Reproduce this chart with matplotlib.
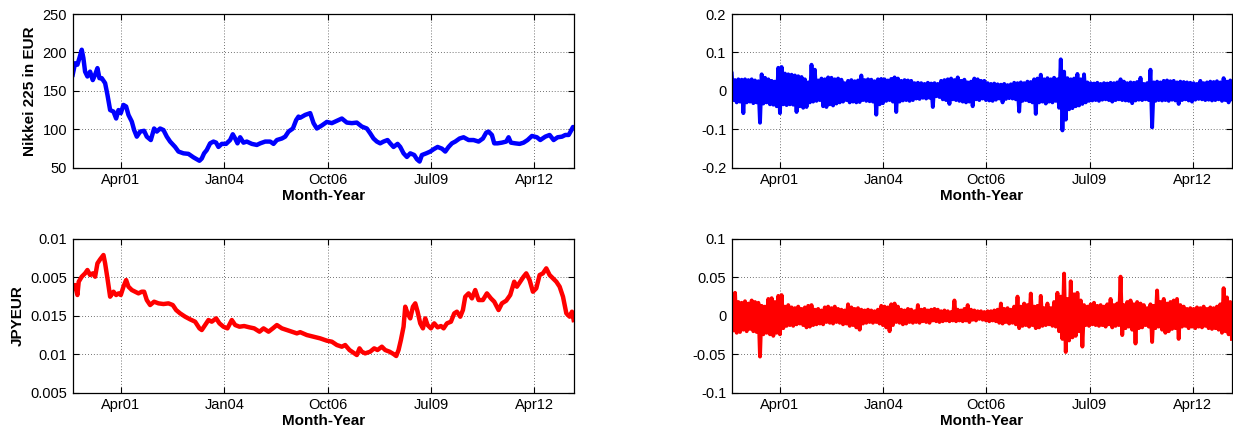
import numpy as np
import matplotlib
matplotlib.use("Agg")
import matplotlib.pyplot as plt
import matplotlib.dates as mdates
from datetime import datetime

plt.rcParams['font.family'] = ['Liberation Sans', 'DejaVu Sans']
plt.rcParams['axes.unicode_minus'] = False

# ---------------- data ----------------
nikkei_t = [1999.963, 2000.026, 2000.088, 2000.141, 2000.203, 2000.247, 2000.292, 2000.354, 2000.425, 2000.496,
            2000.558, 2000.620, 2000.673, 2000.735, 2000.824, 2000.886, 2000.957, 2001.046, 2001.117, 2001.179,
            2001.241, 2001.312, 2001.383, 2001.445, 2001.534, 2001.596, 2001.667, 2001.756, 2001.862, 2001.933,
            2002.040, 2002.128, 2002.199, 2002.288, 2002.377, 2002.466, 2002.554, 2002.687, 2002.776, 2002.909,
            2003.042, 2003.175, 2003.264, 2003.335, 2003.397, 2003.459, 2003.530, 2003.619, 2003.708, 2003.779,
            2003.841, 2003.930, 2004.045, 2004.151, 2004.222, 2004.285, 2004.347, 2004.418, 2004.506, 2004.595,
            2004.728, 2004.861, 2004.950, 2005.083, 2005.216, 2005.305, 2005.394, 2005.527, 2005.615, 2005.704,
            2005.820, 2005.908, 2005.970, 2006.015, 2006.148, 2006.281, 2006.370, 2006.458, 2006.592, 2006.725,
            2006.858, 2006.991, 2007.124, 2007.257, 2007.390, 2007.523, 2007.656, 2007.789, 2007.878, 2007.967,
            2008.056, 2008.144, 2008.233, 2008.340, 2008.411, 2008.499, 2008.606, 2008.677, 2008.765, 2008.854,
            2008.943, 2009.049, 2009.120, 2009.191, 2009.253, 2009.369, 2009.475, 2009.564, 2009.671, 2009.786,
            2009.875, 2009.963, 2010.052, 2010.141, 2010.256, 2010.363, 2010.496, 2010.629, 2010.762, 2010.877,
            2010.966, 2011.028, 2011.117, 2011.179, 2011.268, 2011.383, 2011.498, 2011.561, 2011.623, 2011.738,
            2011.854, 2011.960, 2012.066, 2012.182, 2012.315, 2012.403, 2012.537, 2012.652, 2012.758, 2012.865,
            2012.980, 2013.069, 2013.158, 2013.220, 2013.273, 2013.300]
nikkei_v = [171, 186, 184, 192.6, 203.5, 192.6, 175, 168.7, 175, 164,
            171, 179.6, 166.5, 166.5, 160, 144.8, 125, 123, 114, 125,
            121, 131.7, 129.6, 118.7, 110, 99, 90.4, 97, 98, 90.4,
            86, 101, 97, 101, 99, 90.4, 84, 77, 71, 68.7,
            68, 63.5, 61, 59, 62, 68.7, 73, 81.7, 84, 82.6,
            77, 81, 81, 86, 93.5, 88, 81.7, 89.6, 82.6, 84,
            81, 79.6, 81.7, 84, 84, 81, 86, 88, 90.4, 97,
            101, 112, 116.5, 115, 118.7, 121, 108, 101, 105, 109.6,
            108, 111, 114, 108.7, 108, 108.7, 103.5, 101, 94.8, 88,
            84, 81.7, 84, 86, 81.7, 77, 81, 77, 68.7, 64,
            68.7, 66.5, 61, 58, 66.5, 68.7, 71, 74, 77, 74.8,
            71, 77, 81.7, 84, 88, 89.6, 86, 86, 84, 88,
            95.7, 97, 92.6, 81.7, 81.7, 82.6, 84, 89.6, 82.6, 81.7,
            81, 82.6, 86, 91.3, 89.6, 86, 90.4, 92.6, 86, 89.6,
            90.4, 92.6, 92.6, 98, 103, 102]

jpy_t = [1999.963, 2000.026, 2000.088, 2000.123, 2000.203, 2000.292, 2000.354, 2000.425, 2000.496, 2000.558,
         2000.620, 2000.691, 2000.780, 2000.824, 2000.886, 2000.957, 2001.046, 2001.117, 2001.179, 2001.241,
         2001.312, 2001.383, 2001.445, 2001.534, 2001.623, 2001.711, 2001.800, 2001.862, 2001.933, 2002.022,
         2002.128, 2002.244, 2002.377, 2002.510, 2002.625, 2002.714, 2002.820, 2002.954, 2003.087, 2003.220,
         2003.335, 2003.397, 2003.486, 2003.575, 2003.663, 2003.779, 2003.868, 2003.974, 2004.080, 2004.196,
         2004.285, 2004.400, 2004.524, 2004.666, 2004.790, 2004.932, 2005.039, 2005.172, 2005.287, 2005.394,
         2005.527, 2005.660, 2005.793, 2005.926, 2006.015, 2006.192, 2006.370, 2006.547, 2006.725, 2006.858,
         2006.991, 2007.124, 2007.213, 2007.328, 2007.434, 2007.523, 2007.594, 2007.656, 2007.745, 2007.878,
         2007.985, 2008.073, 2008.189, 2008.277, 2008.393, 2008.499, 2008.570, 2008.632, 2008.694, 2008.765,
         2008.810, 2008.872, 2008.943, 2009.014, 2009.076, 2009.138, 2009.209, 2009.280, 2009.342, 2009.404,
         2009.493, 2009.582, 2009.671, 2009.760, 2009.831, 2009.919, 2010.026, 2010.114, 2010.185, 2010.274,
         2010.345, 2010.407, 2010.496, 2010.585, 2010.673, 2010.762, 2010.877, 2010.984, 2011.090, 2011.179,
         2011.294, 2011.383, 2011.498, 2011.605, 2011.711, 2011.782, 2011.871, 2011.960, 2012.031, 2012.120,
         2012.208, 2012.297, 2012.386, 2012.474, 2012.563, 2012.652, 2012.741, 2012.830, 2012.918, 2013.007,
         2013.096, 2013.184, 2013.246, 2013.291]
jpy_v = [0.009431, 0.009604, 0.009084, 0.009778, 0.010038, 0.010211, 0.010385, 0.010125, 0.010211, 0.010038,
         0.010732, 0.010940, 0.011166, 0.010732, 0.009951, 0.008997, 0.009257, 0.009084, 0.009170, 0.009084,
         0.009517, 0.009864, 0.009517, 0.009344, 0.009257, 0.009170, 0.009257, 0.009257, 0.008823, 0.008563,
         0.008737, 0.008650, 0.008615, 0.008650, 0.008563, 0.008303, 0.008129, 0.007956, 0.007817, 0.007696,
         0.007349, 0.007262, 0.007522, 0.007782, 0.007696, 0.007869, 0.007609, 0.007435, 0.007349, 0.007782,
         0.007522, 0.007435, 0.007470, 0.007401, 0.007349, 0.007175, 0.007349, 0.007175, 0.007349, 0.007522,
         0.007349, 0.007262, 0.007175, 0.007088, 0.007150, 0.007001, 0.006915, 0.006828, 0.006707, 0.006655,
         0.006481, 0.006394, 0.006481, 0.006221, 0.006082, 0.005961, 0.006308, 0.006134, 0.006047, 0.006134,
         0.006308, 0.006221, 0.006394, 0.006221, 0.006134, 0.006013, 0.005909, 0.006221, 0.006741, 0.007435,
         0.008476, 0.008129, 0.007869, 0.008476, 0.008650, 0.008216, 0.007609, 0.007349, 0.007869, 0.007522,
         0.007349, 0.007609, 0.007401, 0.007470, 0.007349, 0.007609, 0.007696, 0.008129, 0.008216, 0.007956,
         0.008303, 0.008997, 0.009170, 0.008910, 0.009344, 0.008823, 0.008823, 0.009170, 0.008910, 0.008737,
         0.008303, 0.008650, 0.008789, 0.009084, 0.009778, 0.009517, 0.009778, 0.010038, 0.010211, 0.009864,
         0.009257, 0.009431, 0.010125, 0.010211, 0.010472, 0.010125, 0.009951, 0.009778, 0.009517, 0.008997,
         0.008129, 0.007956, 0.008216, 0.007782]

# returns: alternating upper / lower extremes read along the band
ret_start, ret_end = 1999.963, 2013.29
nikkei_ret_hi = [0.045, 0.028, 0.030, 0.029, 0.030, 0.028, 0.030, 0.027, 0.025, 0.043,
                 0.034, 0.030, 0.026, 0.024, 0.060, 0.062, 0.045, 0.043, 0.042, 0.040,
                 0.038, 0.036, 0.030, 0.022, 0.068, 0.055, 0.027, 0.032, 0.030, 0.035,
                 0.034, 0.030, 0.032, 0.029, 0.020, 0.026, 0.028, 0.025, 0.027, 0.040,
                 0.028, 0.030, 0.029, 0.025, 0.030, 0.031, 0.030, 0.027, 0.031, 0.035,
                 0.032, 0.026, 0.028, 0.027, 0.026, 0.020, 0.021, 0.020, 0.018, 0.021,
                 0.019, 0.020, 0.018, 0.026, 0.028, 0.030, 0.032, 0.028, 0.035, 0.026,
                 0.029, 0.022, 0.024, 0.032, 0.030, 0.026,
                 0.026, 0.020, 0.018, 0.019, 0.017, 0.016, 0.018, 0.015, 0.017, 0.021,
                 0.020, 0.022, 0.020, 0.024, 0.023, 0.030, 0.032, 0.042, 0.030, 0.033,
                 0.030, 0.034, 0.030, 0.082, 0.050, 0.033, 0.030, 0.032, 0.044, 0.030,
                 0.043, 0.022, 0.020, 0.019, 0.021, 0.018, 0.020, 0.019, 0.021, 0.020,
                 0.022, 0.030, 0.024, 0.020, 0.022, 0.021, 0.023, 0.034, 0.018, 0.020,
                 0.055, 0.022, 0.024, 0.022, 0.026, 0.027, 0.025, 0.026, 0.022, 0.024,
                 0.023, 0.022, 0.021, 0.020, 0.018, 0.026, 0.020, 0.022, 0.024, 0.023,
                 0.025, 0.022, 0.033, 0.024, 0.027]
nikkei_ret_lo = [-0.024, -0.030, -0.028, -0.058, -0.030, -0.028, -0.032, -0.030, -0.083, -0.033,
                 -0.030, -0.035, -0.036, -0.040, -0.058, -0.035, -0.037, -0.035, -0.036, -0.055,
                 -0.040, -0.044, -0.042, -0.030, -0.028, -0.026, -0.024, -0.040, -0.042, -0.035,
                 -0.038, -0.033, -0.030, -0.028, -0.024, -0.030, -0.028, -0.030, -0.029, -0.024,
                 -0.026, -0.027, -0.028, -0.062, -0.035, -0.032, -0.026, -0.024, -0.028, -0.055,
                 -0.028, -0.025, -0.024, -0.026, -0.024, -0.020, -0.021, -0.018, -0.020, -0.018,
                 -0.042, -0.014, -0.016, -0.022, -0.024, -0.034, -0.022, -0.024, -0.026, -0.028,
                 -0.030, -0.028, -0.040, -0.022, -0.024, -0.020,
                 -0.024, -0.025, -0.026, -0.023, -0.020, -0.030, -0.021, -0.019, -0.020, -0.022,
                 -0.054, -0.026, -0.024, -0.027, -0.030, -0.060, -0.030, -0.028, -0.033, -0.028,
                 -0.030, -0.026, -0.044, -0.103, -0.075, -0.048, -0.045, -0.040, -0.038, -0.034,
                 -0.030, -0.026, -0.025, -0.024, -0.026, -0.023, -0.022, -0.024, -0.028, -0.024,
                 -0.022, -0.024, -0.025, -0.026, -0.032, -0.025, -0.023, -0.024, -0.022, -0.024,
                 -0.095, -0.026, -0.024, -0.025, -0.024, -0.026, -0.023, -0.025, -0.034, -0.024,
                 -0.022, -0.025, -0.028, -0.023, -0.021, -0.022, -0.024, -0.023, -0.025, -0.024,
                 -0.022, -0.026, -0.024, -0.030, -0.022]
jpy_ret_hi = [0.019, 0.030, 0.018, 0.017, 0.019, 0.016, 0.020, 0.018, 0.017, 0.013,
              0.012, 0.022, 0.023, 0.018, 0.026, 0.027, 0.012, 0.014, 0.011, 0.010,
              0.012, 0.009, 0.011, 0.013, 0.014, 0.008, 0.009, 0.007, 0.011, 0.012,
              0.010, 0.012, 0.009, 0.008, 0.007, 0.015, 0.011, 0.009, 0.010, 0.008,
              0.007, 0.008, 0.007, 0.006, 0.008, 0.013, 0.012, 0.011, 0.015, 0.016,
              0.012, 0.008, 0.007, 0.009, 0.008, 0.006, 0.014, 0.008, 0.009, 0.007,
              0.008, 0.009, 0.008, 0.006, 0.007, 0.006, 0.005, 0.020, 0.008, 0.007,
              0.009, 0.014, 0.008, 0.007, 0.006, 0.006,
              0.005, 0.006, 0.006, 0.007, 0.008, 0.016, 0.009, 0.010, 0.008, 0.012,
              0.025, 0.012, 0.016, 0.014, 0.029, 0.012, 0.013, 0.026, 0.010, 0.016,
              0.010, 0.018, 0.030, 0.025, 0.055, 0.022, 0.045, 0.028, 0.030, 0.020,
              0.014, 0.012, 0.015, 0.017, 0.013, 0.014, 0.012, 0.015, 0.022, 0.014,
              0.016, 0.051, 0.014, 0.018, 0.020, 0.015, 0.018, 0.016, 0.014, 0.010,
              0.015, 0.013, 0.033, 0.018, 0.022, 0.016, 0.018, 0.020, 0.022, 0.014,
              0.012, 0.009, 0.010, 0.009, 0.011, 0.010, 0.012, 0.009, 0.011, 0.010,
              0.012, 0.015, 0.036, 0.024, 0.018]
jpy_ret_lo = [-0.019, -0.022, -0.021, -0.018, -0.020, -0.017, -0.020, -0.021, -0.053, -0.024,
              -0.022, -0.024, -0.026, -0.022, -0.024, -0.016, -0.013, -0.012, -0.013, -0.011,
              -0.010, -0.012, -0.015, -0.014, -0.012, -0.011, -0.010, -0.011, -0.008, -0.009,
              -0.010, -0.008, -0.009, -0.011, -0.010, -0.013, -0.012, -0.015, -0.018, -0.010,
              -0.009, -0.008, -0.009, -0.008, -0.010, -0.012, -0.015, -0.020, -0.012, -0.008,
              -0.009, -0.011, -0.010, -0.008, -0.009, -0.008, -0.009, -0.007, -0.008, -0.009,
              -0.006, -0.007, -0.008, -0.007, -0.006, -0.007, -0.006, -0.007, -0.006, -0.007,
              -0.006, -0.008, -0.005, -0.006, -0.004, -0.005,
              -0.006, -0.007, -0.006, -0.007, -0.009, -0.010, -0.008, -0.010, -0.009, -0.011,
              -0.016, -0.013, -0.012, -0.014, -0.012, -0.016, -0.015, -0.013, -0.012, -0.011,
              -0.013, -0.014, -0.020, -0.030, -0.047, -0.032, -0.028, -0.026, -0.020, -0.040,
              -0.012, -0.013, -0.011, -0.012, -0.013, -0.012, -0.014, -0.011, -0.015, -0.013,
              -0.012, -0.025, -0.016, -0.014, -0.018, -0.036, -0.016, -0.015, -0.012, -0.014,
              -0.034, -0.016, -0.014, -0.018, -0.022, -0.020, -0.017, -0.016, -0.030, -0.014,
              -0.013, -0.016, -0.014, -0.016, -0.014, -0.015, -0.013, -0.016, -0.017, -0.016,
              -0.018, -0.022, -0.020, -0.024, -0.030]

x_start, x_end = 1999.963, 2013.300
tick_dates = [datetime(2001, 4, 1), datetime(2004, 1, 1), datetime(2006, 10, 1),
              datetime(2009, 7, 1), datetime(2012, 4, 1)]
nikkei_yticks = [50, 100, 150, 200, 250]
nikkei_ylabels = ['50', '100', '150', '200', '250']
jpy_yticks = [0.004, 0.006, 0.008, 0.010, 0.012]
jpy_ylabels = ['0.005', '0.01', '0.015', '0.005', '0.01']
nret_yticks = [-0.2, -0.1, 0, 0.1, 0.2]
nret_ylabels = ['-0.2', '-0.1', '0', '0.1', '0.2']
jret_yticks = [-0.1, -0.05, 0, 0.05, 0.1]
jret_ylabels = ['-0.1', '-0.05', '0', '0.05', '0.1']


def yr2num(years):
    out = []
    for y in np.atleast_1d(years):
        Y = int(np.floor(y))
        a = mdates.date2num(datetime(Y, 1, 1))
        b = mdates.date2num(datetime(Y + 1, 1, 1))
        out.append(a + (y - Y) * (b - a))
    return np.array(out)


def zigzag(hi, lo):
    return np.column_stack((hi, lo)).ravel()


nret = zigzag(nikkei_ret_hi, nikkei_ret_lo)
jret = zigzag(jpy_ret_hi, jpy_ret_lo)
nret_t = yr2num(np.linspace(ret_start, ret_end, len(nret)))
jret_t = yr2num(np.linspace(ret_start, ret_end, len(jret)))

W, H = 1233, 433
fig = plt.figure(figsize=(W / 100, H / 100), dpi=100)

def add_ax(l, t, r, b):
    return fig.add_axes([l / W, 1 - b / H, (r - l) / W, (b - t) / H])

ax1 = add_ax(72.7, 14, 574, 167.7)
ax2 = add_ax(731.7, 14, 1232.3, 167.7)
ax3 = add_ax(72.7, 239, 574, 392.7)
ax4 = add_ax(731.7, 239, 1232.3, 392.7)

ax1.plot(yr2num(nikkei_t), nikkei_v, color=(0, 0, 1), lw=3.2)
ax3.plot(yr2num(jpy_t), jpy_v, color=(1, 0, 0), lw=3.2)
ax2.plot(nret_t, nret, color=(0, 0, 1), lw=2.8)
ax4.plot(jret_t, jret, color=(1, 0, 0), lw=2.8)

setup = [
    (ax1, (50, 250), nikkei_yticks, nikkei_ylabels, 'Nikkei 225 in EUR'),
    (ax2, (-0.2, 0.2), nret_yticks, nret_ylabels, None),
    (ax3, (0.004, 0.012), jpy_yticks, jpy_ylabels, 'JPYEUR'),
    (ax4, (-0.1, 0.1), jret_yticks, jret_ylabels, None),
]
xl = yr2num([x_start, x_end])
for ax, ylim, yt, ylab, ylabel in setup:
    ax.set_xlim(xl[0], xl[1])
    ax.set_ylim(*ylim)
    ax.set_xticks(mdates.date2num(tick_dates))
    ax.xaxis.set_major_formatter(mdates.DateFormatter('%b%y'))
    ax.set_yticks(yt)
    ax.set_yticklabels(ylab)
    ax.tick_params(direction='in', length=4.5, width=0.8, top=True, right=True,
                   labelsize=10.5, colors='black', pad=4)
    ax.grid(True, color='#444444', linestyle=(0, (1, 2.5)), linewidth=0.6)
    for s in ax.spines.values():
        s.set_linewidth(0.9)
        s.set_color('black')
    ax.set_xlabel('Month-Year', fontsize=11, fontweight='bold', labelpad=1)
    if ylabel:
        ax.set_ylabel(ylabel, fontsize=11, fontweight='bold', labelpad=4)

fig.savefig('out.png', dpi=100, facecolor='white')
